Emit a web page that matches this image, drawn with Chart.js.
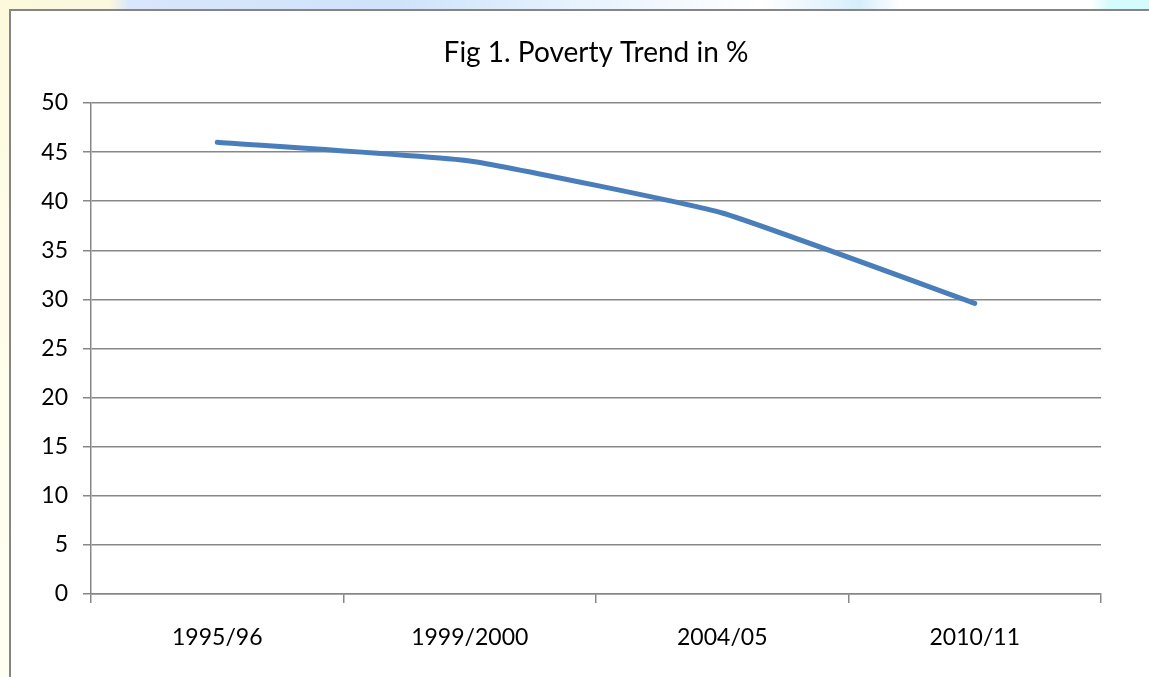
<!DOCTYPE html>
<html>
<head>
<meta charset="utf-8">
<title>Poverty Trend</title>
<script src="https://cdn.jsdelivr.net/npm/chart.js@4"></script>
<style>
  html, body { margin: 0; padding: 0; background: #fff; overflow: hidden; }
  #stage { position: relative; width: 1149px; height: 677px; }
  /* slide backdrop peeking out around the chart frame */
  #topBand {
    position: absolute; left: 0; top: 0; width: 1149px; height: 10px;
    background: linear-gradient(90deg, #fdf9dc 0px, #fbf7e0 110px, #d9e6fb 130px, #cfe3fb 400px,
      #e4f1fd 560px, #ffffff 760px, #d6eefc 860px, #ffffff 900px, #ffffff 1090px, #d4fbfd 1110px);
  }
  #leftBand {
    position: absolute; left: 0; top: 0; width: 10px; height: 677px;
    background: linear-gradient(180deg, #fdf9dc 0px, #fffde8 240px, #fffef2 677px);
  }
  #frame {
    position: absolute; left: 9px; top: 9px; width: 1200px; height: 700px;
    border-left: 2px solid #858585; border-top: 2px solid #858585; background: #fff;
  }
  #chartBox { position: absolute; left: 0; top: 0; width: 1149px; height: 677px; }
</style>
</head>
<body>
<div id="stage">
  <div id="topBand"></div>
  <div id="leftBand"></div>
  <div id="frame"></div>
  <div id="chartBox"><canvas id="povertyChart" width="1149" height="677"></canvas></div>
</div>
<script>
// -------------------- DATA --------------------
const years = ["1995/96", "1999/2000", "2004/05", "2010/11"];
const povertyRate = [46.0, 44.1, 38.8, 29.6];
const yTicks = [0, 5, 10, 15, 20, 25, 30, 35, 40, 45, 50];

// -------------------- STYLE --------------------
const FONT = "Lato, 'Open Sans', sans-serif";
const AXIS_GREY = "#878787";

// -------------------- CHART --------------------
const ctx = document.getElementById("povertyChart").getContext("2d");
const chart = new Chart(ctx, {
  type: "line",
  data: {
    labels: years,
    datasets: [{
      label: "Poverty %",
      data: povertyRate,
      borderColor: "#4a7ebb",
      borderWidth: 5,
      borderCapStyle: "round",
      borderJoinStyle: "round",
      pointRadius: 0,
      pointHoverRadius: 0,
      fill: false,
      tension: 0.12
    }]
  },
  options: {
    responsive: false,
    animation: false,
    layout: { padding: { left: 0, right: 48, top: 0, bottom: 0 } },
    plugins: {
      legend: { display: false },
      tooltip: { enabled: false },
      title: {
        display: true,
        fullSize: false, // centre the title over the plot area
        text: "Fig 1. Poverty Trend in %",
        color: "#000",
        font: { family: FONT, size: 28, weight: "normal", lineHeight: 1.2 },
        padding: { top: 36, bottom: 33.4 }
      }
    },
    scales: {
      x: {
        offset: true,
        grid: {
          offset: true,
          drawOnChartArea: false,
          drawTicks: true,
          tickLength: 9,
          color: AXIS_GREY,
          lineWidth: 1.5
        },
        border: { color: AXIS_GREY, width: 1.5 },
        ticks: {
          color: "#000",
          padding: 21,
          font: { family: FONT, size: 23 },
          maxRotation: 0
        },
        afterFit: (scale) => { scale.height = 83; }
      },
      y: {
        min: 0,
        max: 50,
        afterBuildTicks: (scale) => { scale.ticks = yTicks.map(v => ({ value: v })); },
        grid: {
          color: AXIS_GREY,
          lineWidth: 1.5,
          tickLength: 8
        },
        border: { color: AXIS_GREY, width: 1.5 },
        ticks: {
          color: "#000",
          padding: 15,
          font: { family: FONT, size: 23 }
        },
        afterFit: (scale) => { scale.width = 91; }
      }
    }
  }
});
</script>
</body>
</html>
